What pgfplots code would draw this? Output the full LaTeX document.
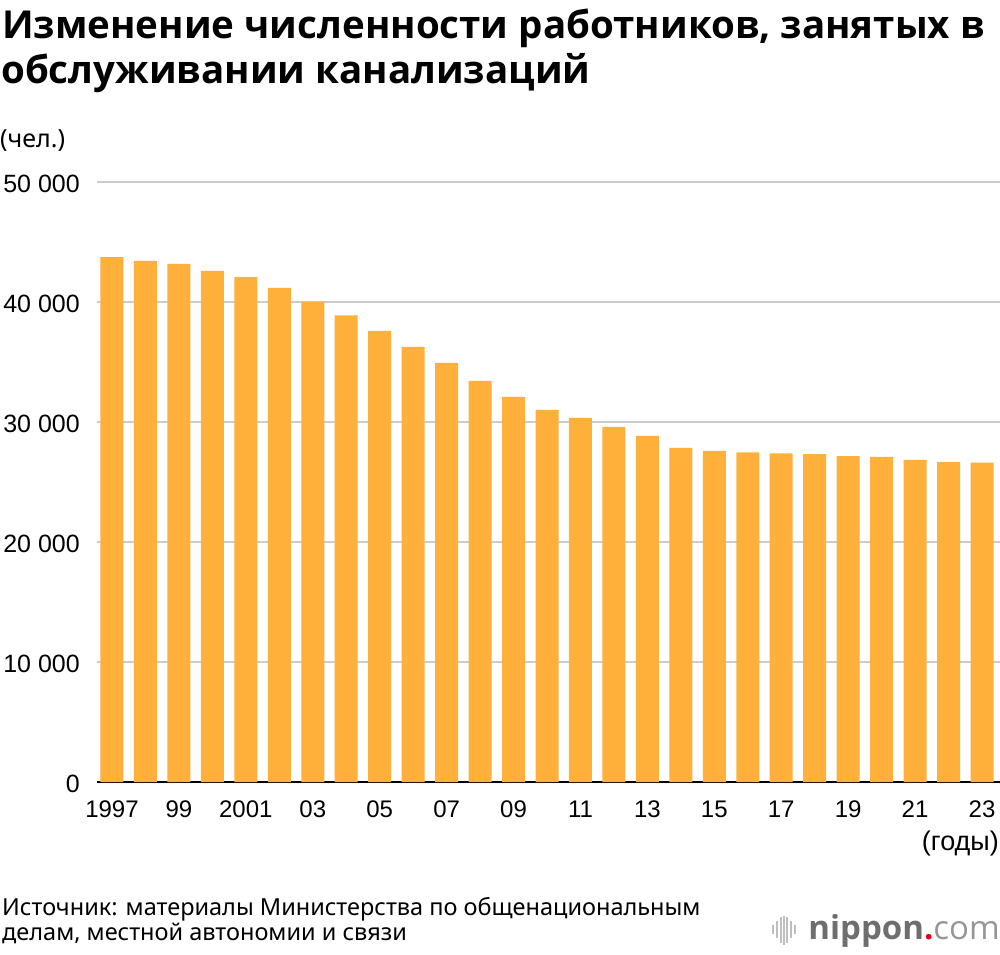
\documentclass[border=0pt]{standalone}
\usepackage{fontspec}
\usepackage{pgfplots}
\pgfplotsset{compat=1.18}
\usepackage{pgfplotstable}
\setmainfont{Liberation Sans}
\newfontfamily\notosans{Noto Sans}
\newfontfamily\opensans{Open Sans}
\definecolor{barcolor}{RGB}{255,176,59}
\definecolor{gridgray}{RGB}{204,204,204}
\definecolor{logogray}{RGB}{110,110,110}
\definecolor{logolight}{RGB}{150,150,150}
\definecolor{logored}{RGB}{230,0,18}
\definecolor{iconlight}{RGB}{190,190,190}
\pgfplotstableread{
year value
1997 43730
1998 43430
1999 43180
2000 42600
2001 42070
2002 41180
2003 40040
2004 38880
2005 37600
2006 36270
2007 34930
2008 33430
2009 32100
2010 31020
2011 30350
2012 29600
2013 28850
2014 27850
2015 27600
2016 27460
2017 27380
2018 27320
2019 27150
2020 27100
2021 26850
2022 26650
2023 26620
}\datatable
\begin{document}
\begin{tikzpicture}
\useasboundingbox (0,0) rectangle (1000pt,954pt);
\begin{axis}[
  at={(97pt,172pt)}, anchor=south west,
  scale only axis, width=903pt, height=600pt,
  xmin=1996.552, xmax=2023.538, ymin=0, ymax=50000,
  clip=false,
  scaled y ticks=false,
  axis lines*=left,
  y axis line style={draw=none},
  x axis line style={black, line width=2pt, -},
  ymajorgrids, grid style={gridgray, line width=1.6pt},
  major tick length=0pt,
  xtick={1997,1999,...,2023},
  xticklabels={1997,99,2001,03,05,07,09,11,13,15,17,19,21,23},
  ytick={0,10000,20000,30000,40000,50000},
  yticklabels={0,10 000,20 000,30 000,40 000,50 000},
  xticklabel style={font=\fontsize{24}{28}\selectfont, inner sep=0pt, anchor=north, yshift=-19pt},
  yticklabel style={font=\fontsize{25}{29}\selectfont, inner sep=0pt, anchor=east, xshift=-17pt, yshift=-2pt},
]
\addplot[ybar, bar width=23pt, fill=barcolor, draw=none] table[x=year, y=value] {\datatable};
\end{axis}
% title
\node[anchor=base west, inner sep=0pt, font=\opensans\bfseries\fontsize{38.5}{44}\selectfont] at (2pt,915pt) {Изменение численности работников, занятых в};
\node[anchor=base west, inner sep=0pt, font=\opensans\bfseries\fontsize{38.5}{44}\selectfont] at (1pt,870pt) {обслуживании канализаций};
% unit labels
\node[anchor=base west, inner sep=0pt, font=\notosans\fontsize{25}{29}\selectfont] at (0pt,806pt) {(чел.)};
\node[anchor=base east, inner sep=0pt, font=\fontsize{27}{31}\selectfont] at (999pt,104pt) {(годы)};
% source
\node[anchor=base west, inner sep=0pt, font=\notosans\fontsize{23.5}{28}\selectfont] at (2pt,39pt) {Источник: материалы Министерства по общенациональным};
\node[anchor=base west, inner sep=0pt, font=\notosans\fontsize{23.5}{28}\selectfont] at (2pt,14pt) {делам, местной автономии и связи};
% logo
\node[anchor=base east, inner sep=0pt, font=\opensans\fontsize{33}{37}\selectfont] at (1000pt,15pt) {{\color{logogray}\bfseries nippon}{\color{logored}\bfseries .}{\color{logolight}com}};
\draw[iconlight, line width=1.6pt] (773pt,20pt) -- (773pt,29pt);
\draw[iconlight, line width=1.6pt] (777pt,16pt) -- (777pt,33pt);
\draw[iconlight, line width=1.6pt] (781pt,11pt) -- (781pt,37pt);
\draw[iconlight, line width=1.6pt] (784pt,9pt) -- (784pt,38pt);
\draw[iconlight, line width=1.6pt] (787pt,11pt) -- (787pt,37pt);
\draw[iconlight, line width=1.6pt] (791pt,16pt) -- (791pt,33pt);
\draw[iconlight, line width=1.6pt] (795pt,20pt) -- (795pt,29pt);
\end{tikzpicture}
\end{document}
